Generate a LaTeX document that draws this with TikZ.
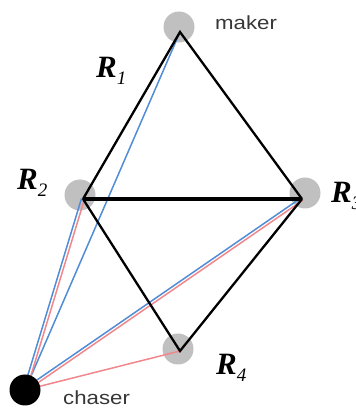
\documentclass[tikz,border=0pt]{standalone}
\usepackage{fontspec}
\setmainfont{Liberation Serif}
\setsansfont{Liberation Sans}
\usepackage{graphicx}
\definecolor{dotgray}{RGB}{192,192,192}
\definecolor{linkblue}{RGB}{80,140,215}
\definecolor{linkred}{RGB}{240,135,140}
\definecolor{txtgray}{RGB}{55,55,55}
\newcommand{\rlab}[1]{{\fontsize{31}{31}\selectfont\bfseries\itshape R}\raisebox{-7pt}{\fontsize{19}{19}\selectfont\itshape #1}}
\newcommand{\wlab}[1]{\scalebox{1.17}[1]{\fontsize{19}{19}\selectfont\sffamily #1}}

\begin{document}
\begin{tikzpicture}[x=1pt,y=1pt,
    spot/.style={circle,fill=dotgray,minimum size=31pt,inner sep=0pt},
    edge/.style={line width=2.3pt,line join=miter},
    bluelink/.style={linkblue,line width=1.5pt},
    redlink/.style={linkred,line width=1.5pt}]
    \tikzstyle{every label node}=[inner sep=0pt,anchor=base west]
    \useasboundingbox (0,0) rectangle (356,408);
    % robots
    \node[spot] (s1) at (179,381) {};
    \node[spot] (s2) at (80,213) {};
    \node[spot] (s3) at (305,215) {};
    \node[spot] (s4) at (178,59) {};
    \coordinate (r1) at (180,376);
    \coordinate (r2) at (83,209);
    \coordinate (r3) at (302,209);
    \coordinate (r4) at (180,57);
    \coordinate (ch) at (25,18);
    % links from the chaser
    \draw[bluelink] (ch) -- (r1);
    \draw[bluelink] ([shift={(-1.5,0.5)}]ch) -- ([shift={(-1.5,0.5)}]r2);
    \draw[redlink] ([shift={(1.4,-0.4)}]ch) -- ([shift={(1.4,-0.4)}]r2);
    \draw[bluelink] ([shift={(-0.8,1.2)}]ch) -- ([shift={(-0.8,1.2)}]r3);
    \draw[redlink] ([shift={(0.8,-1.2)}]ch) -- ([shift={(0.8,-1.2)}]r3);
    \draw[redlink] (ch) -- (r4);
    % formation
    \draw[edge] (r2) -- (r1) -- (r3);
    \draw[edge] (r2) -- (r4) -- (r3);
    \draw[line width=4.2pt] (r2) -- (r3);
    \node[circle,fill=black,minimum size=31pt,inner sep=0pt] (chaser) at (ch) {};
    % labels
    \node[every label node] (l1) at (96,330) {\rlab{1}};
    \node[every label node] (l2) at (17,218) {\rlab{2}};
    \node[every label node] (l3) at (331,205) {\rlab{3}};
    \node[every label node] (l4) at (216,34) {\rlab{4}};
    \node[every label node,txtgray] (mk) at (215,378) {\wlab{maker}};
    \node[every label node,txtgray] (cs) at (63,3) {\wlab{chaser}};
\end{tikzpicture}
\end{document}
